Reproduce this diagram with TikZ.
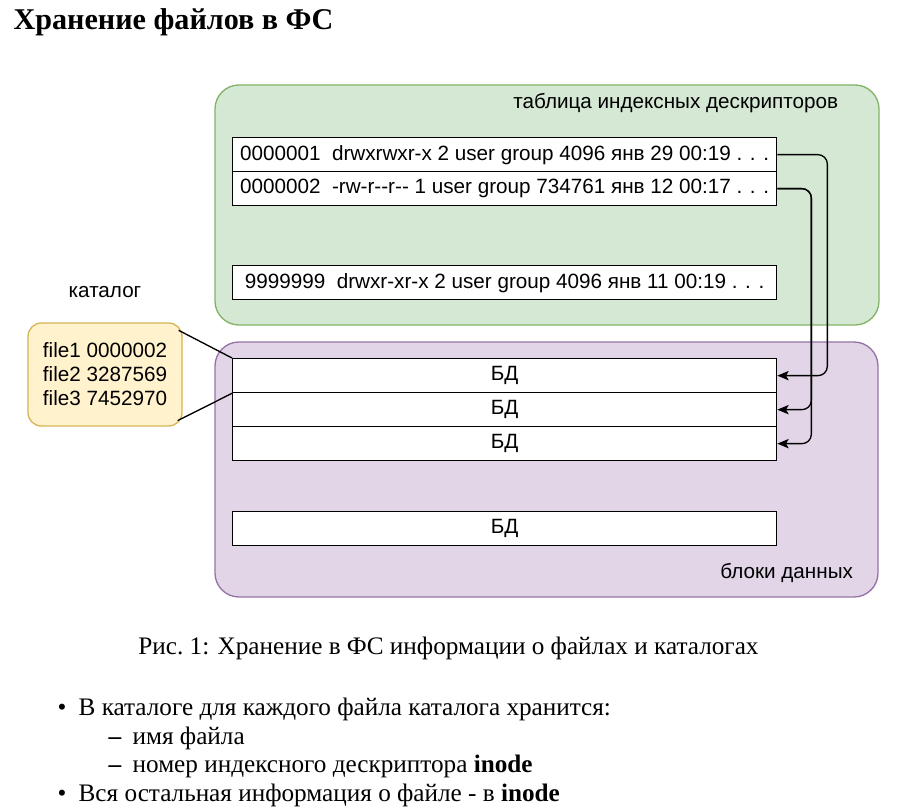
\documentclass[tikz,border=0pt]{standalone}
\usepackage{fontspec}
\setmainfont{Liberation Serif}
\newfontfamily\diafont{Liberation Sans}
\usetikzlibrary{positioning, arrows.meta, calc}
\definecolor{inodefill}{HTML}{D5E8D4}
\definecolor{inodeline}{HTML}{82B366}
\definecolor{datafill}{HTML}{E1D5E7}
\definecolor{dataline}{HTML}{9673A6}
\definecolor{dirfill}{HTML}{FFF2CC}
\definecolor{dirline}{HTML}{D6B656}
\tikzset{
	area/.style={draw, rounded corners=18pt, inner sep=0pt},
	rec/.style={draw, fill=white, minimum width=408pt, minimum height=25.5pt, inner sep=0pt, anchor=north west},
	link/.style={-{Stealth[length=8.5pt, width=7pt, inset=2pt]}, rounded corners=7pt},
	dia/.style={font=\diafont\fontsize{15.5}{18}\selectfont},
	txt/.style={anchor=base west, inner sep=0pt, font=\fontsize{18.9}{22}\selectfont},
}
\begin{document}
\begin{tikzpicture}[x=0.75pt, y=-0.75pt, line width=1pt, dia]
		\useasboundingbox (0,0) rectangle (908,812);
		\node[txt, font=\bfseries\fontsize{22.6}{27}\selectfont] (title) at (13,30) {Хранение файлов в ФС};
		
		\node[area, fill=inodefill, draw=inodeline, minimum width=498pt, minimum height=180pt] (itab) at (547,205) {};
		\node[area, fill=datafill, draw=dataline, minimum width=497.25pt, minimum height=191.25pt] (dtab) at (546.5,469.5) {};
		\node[anchor=east, inner sep=0pt] (ilabel) at ([shift={(-41,19)}]itab.north east) {таблица индексных дескрипторов};
		\node[anchor=east, inner sep=0pt] (dlabel) at ([shift={(-25,-25)}]dtab.south east) {блоки данных};
		
		\node[rec] (i1) at (232,137) {0000001\ \ drwxrwxr-x 2 user group 4096 янв 29 00:19 . . .};
		\node[rec, below=-\pgflinewidth of i1] (i2) {0000002\ \ -rw-r-{}-r-{}- 1 user group 734761 янв 12 00:17 . . .};
		\node[rec] (i3) at (232,265) {9999999\ \ drwxr-xr-x 2 user group 4096 янв 11 00:19 . . .};
		
		\node[rec] (b1) at (232,358) {БД};
		\node[rec, below=-\pgflinewidth of b1] (b2) {БД};
		\node[rec, below=-\pgflinewidth of b2] (b3) {БД};
		\node[rec] (b4) at (232,511) {БД};
		
		\node[area, rounded corners=10pt, fill=dirfill, draw=dirline, minimum width=115.5pt, minimum height=77.25pt, align=left] (cat) at (105,374.5) {file1 0000002\\file2 3287569\\file3 7452970};
		\node[above=18pt of cat, inner sep=0pt] (clabel) {каталог};
		
		\draw ([shift={(-4,8)}]cat.north east) -- (b1.north west);
		\draw ([shift={(-5,-6)}]cat.south east) -- (b1.south west);
		
		\draw[link] (i1.east) -- ++(50,0) |- (b1.east);
		\draw[link] (i2.east) -- ++(34,0) |- (b2.east);
		\draw[link] (i2.east) -- ++(34,0) |- (b3.east);
		
		\node[anchor=base, inner sep=0pt, font=\fontsize{18.9}{22}\selectfont] (caption) at (448.5,655) {Рис.\ 1: Хранение в ФС информации о файлах и каталогах};
		\node[txt] (l1) at (57,716) {\makebox[15.75pt][l]{\textbullet}В каталоге для каждого файла каталога хранится:};
		\node[txt] (l2) at (108,745) {\makebox[18pt][l]{\textbf{–}}имя файла};
		\node[txt] (l3) at (108,773) {\makebox[18pt][l]{\textbf{–}}номер индексного дескриптора \textbf{inode}};
		\node[txt] (l4) at (57,802) {\makebox[15.75pt][l]{\textbullet}Вся остальная информация о файле - в \textbf{inode}};
	\end{tikzpicture}
\end{document}
